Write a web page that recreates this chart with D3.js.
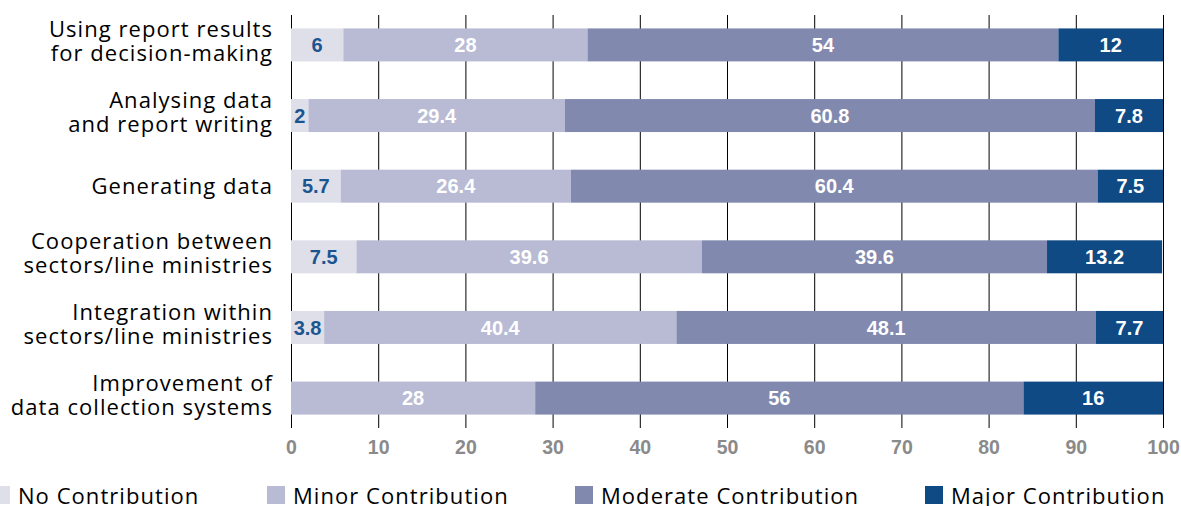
<!DOCTYPE html>
<html>
<head>
<meta charset="utf-8">
<script src="https://cdn.jsdelivr.net/npm/d3@7"></script>
<style>
  html, body { margin: 0; padding: 0; background: #fff; }
  svg { display: block; }
  text { font-family: "Open Sans", "Liberation Sans", Arial, sans-serif; }
</style>
</head>
<body>
<svg id="chart" width="1181" height="506"></svg>
<script>
// Survey items (each label split into display lines)
const categories = [
  ["Using report results", "for decision-making"],
  ["Analysing data", "and report writing"],
  ["Generating data"],
  ["Cooperation between", "sectors/line ministries"],
  ["Integration within", "sectors/line ministries"],
  ["Improvement of", "data collection systems"]
];
const seriesNames = ["No Contribution", "Minor Contribution", "Moderate Contribution", "Major Contribution"];
const noContribution       = [6, 2, 5.7, 7.5, 3.8, 0];
const minorContribution    = [28, 29.4, 26.4, 39.6, 40.4, 28];
const moderateContribution = [54, 60.8, 60.4, 39.6, 48.1, 56];
const majorContribution    = [12, 7.8, 7.5, 13.2, 7.7, 16];
const xTicks = [0, 10, 20, 30, 40, 50, 60, 70, 80, 90, 100];

const colors = ["#dfdfea", "#b9bbd4", "#8289ae", "#104a84"];
const labelColors = ["#1b5590", "#ffffff", "#ffffff", "#ffffff"];

const series = [noContribution, minorContribution, moderateContribution, majorContribution];
const rows = categories.map((c, i) => {
  const r = { key: i };
  series.forEach((s, j) => r[seriesNames[j]] = s[i]);
  return r;
});
const stacked = d3.stack().keys(seriesNames)(rows);

const svg = d3.select("#chart");
const x = d3.scaleLinear().domain([0, 100]).range([291, 1163]);
const y = d3.scaleBand().domain(d3.range(categories.length))
  .range([15, 428]).paddingInner(0.533).paddingOuter(0.19);

// vertical gridlines via the axis, extending from the top of the plot
const axis = d3.axisBottom(x).tickValues(xTicks).tickSize(413).tickSizeOuter(0).tickPadding(12);
const gAxis = svg.append("g").attr("transform", "translate(0,15)").call(axis);
gAxis.select(".domain").remove();
gAxis.selectAll(".tick line").attr("stroke", "#000").attr("stroke-width", 1);
gAxis.selectAll(".tick text")
  .attr("fill", "#8a8a8a")
  .style("font-family", "'Liberation Sans', Arial, sans-serif")
  .style("font-weight", "bold")
  .style("font-size", "19.5px");

// stacked segments
const layers = svg.append("g").selectAll("g").data(stacked).join("g")
  .attr("fill", (d, i) => colors[i]);
layers.selectAll("rect").data(d => d).join("rect")
  .attr("x", d => x(d[0]))
  .attr("y", (d, i) => y(i))
  .attr("width", d => x(d[1]) - x(d[0]))
  .attr("height", y.bandwidth());

// value labels centred in each segment
const vlab = svg.append("g").selectAll("g").data(stacked).join("g");
vlab.selectAll("text").data((d, si) => d.map((v, i) => ({ v, i, si })).filter(o => o.v[1] - o.v[0] > 0))
  .join("text")
  .attr("x", o => (x(o.v[0]) + x(o.v[1])) / 2)
  .attr("y", o => y(o.i) + y.bandwidth() / 2)
  .attr("dy", "0.36em")
  .attr("text-anchor", "middle")
  .attr("fill", o => labelColors[o.si])
  .style("font-family", "'Liberation Sans', Arial, sans-serif")
  .style("font-weight", "bold")
  .style("font-size", "20px")
  .text(o => series[o.si][o.i]);

// category labels
const lineH = 24;
const cat = svg.append("g").selectAll("text").data(categories).join("text")
  .attr("text-anchor", "end")
  .attr("fill", "#000")
  .style("font-size", "22px")
  .style("letter-spacing", "1.05px")
  .attr("transform", (d, i) => `translate(273,${y(i) + y.bandwidth() / 2})`);
cat.selectAll("tspan").data(d => d.map((t, k) => ({ t, k, n: d.length }))).join("tspan")
  .attr("x", 0)
  .attr("y", o => o.n === 1 ? 0 : (o.k === 0 ? -7.5 : -7.5 + lineH))
  .attr("dy", o => o.n === 1 ? "0.36em" : "0")
  .text(o => o.t);

// legend
const legendX = [-8, 267, 575, 925];
const leg = svg.append("g").selectAll("g").data(seriesNames).join("g")
  .attr("transform", (d, i) => `translate(${legendX[i]},486)`);
leg.append("rect").attr("width", 18).attr("height", 18).attr("fill", (d, i) => colors[i]);
leg.append("text").attr("x", 26).attr("y", 18)
  .attr("fill", "#000")
  .style("font-size", "22px")
  .style("letter-spacing", "1.05px")
  .text(d => d);
</script>
</body>
</html>
